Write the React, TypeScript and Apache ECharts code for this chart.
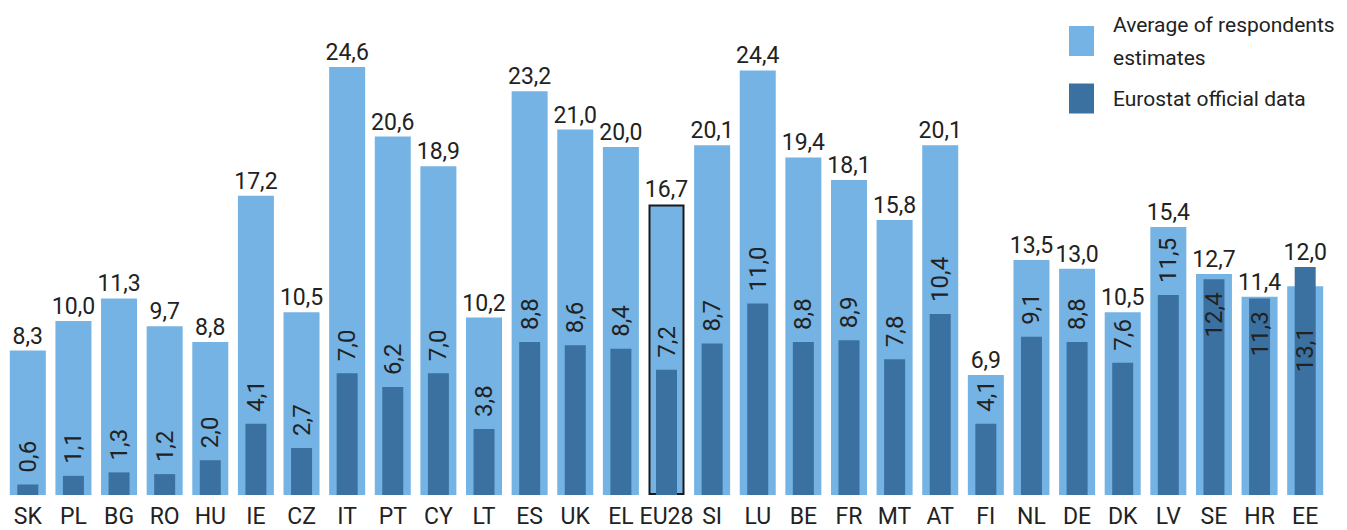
import React, { useEffect, useRef } from "react";
import * as echarts from "echarts";

const categories = ["SK","PL","BG","RO","HU","IE","CZ","IT","PT","CY","LT","ES","UK","EL","EU28","SI","LU","BE","FR","MT","AT","FI","NL","DE","DK","LV","SE","HR","EE"];
const estimates = [8.3,10.0,11.3,9.7,8.8,17.2,10.5,24.6,20.6,18.9,10.2,23.2,21.0,20.0,16.7,20.1,24.4,19.4,18.1,15.8,20.1,6.9,13.5,13.0,10.5,15.4,12.7,11.4,12.0];
const official = [0.6,1.1,1.3,1.2,2.0,4.1,2.7,7.0,6.2,7.0,3.8,8.8,8.6,8.4,7.2,8.7,11.0,8.8,8.9,7.8,10.4,4.1,9.1,8.8,7.6,11.5,12.4,11.3,13.1];
const seriesNames = ["Average of respondents\nestimates", "Eurostat official data"];
const highlighted = "EU28";

const LIGHT = "#74B3E3";
const DARK = "#3B71A0";
const TEXT = "#222222";
const FONT = "Roboto";

const fmt = (v: number) => v.toFixed(1).replace(".", ",");

export default function App() {
  const ref = useRef<HTMLDivElement>(null);
  useEffect(() => {
    if (!ref.current) return;
    const chart = echarts.init(ref.current, null, { renderer: "svg" });
    const lightData = estimates.map((v, i) =>
      categories[i] === highlighted
        ? { value: v, itemStyle: { borderColor: "#1a1a1a", borderWidth: 2 } }
        : { value: v }
    );
    const darkData = official.map((v, i) => {
      const e = estimates[i];
      if (e - v < 1.5) {
        return {
          value: v,
          label: {
            position: "insideTop",
            align: "right",
            distance: v > e ? 60 : 13,
          },
        };
      }
      return { value: v };
    });
    const topData = estimates.map((v, i) => Math.max(v, official[i]));

    chart.setOption({
      animation: false,
      textStyle: { fontFamily: FONT },
      grid: { left: 5, right: 19, top: 7.8, bottom: 35, containLabel: false },
      legend: {
        data: seriesNames.map((n) => ({ name: n, icon: "rect" })),
        orient: "vertical",
        left: 1064,
        top: 3,
        itemWidth: 25,
        itemHeight: 30,
        itemGap: 8,
        selectedMode: false,
        textStyle: {
          fontFamily: FONT,
          fontSize: 21,
          lineHeight: 33,
          color: TEXT,
          padding: [0, 0, 0, 14],
        },
      },
      xAxis: [
        {
          type: "category",
          data: categories,
          axisLine: { show: false },
          axisTick: { show: false },
          axisLabel: {
            fontSize: 23,
            color: TEXT,
            margin: 10,
            interval: 0,
            fontFamily: FONT,
          },
        },
        {
          type: "category",
          data: categories,
          show: false,
        },
      ],
      yAxis: { type: "value", min: 0, max: 28, show: false },
      series: [
        {
          name: seriesNames[0],
          type: "bar",
          xAxisIndex: 0,
          barWidth: 36,
          barGap: "-100%",
          data: lightData,
          itemStyle: { color: LIGHT },
        },
        {
          name: seriesNames[1],
          type: "bar",
          xAxisIndex: 1,
          barWidth: 21,
          data: darkData,
          itemStyle: { color: DARK },
          label: {
            show: true,
            position: "top",
            rotate: 90,
            align: "left",
            verticalAlign: "middle",
            distance: 12,
            fontSize: 24,
            color: TEXT,
            fontFamily: FONT,
            formatter: (p: any) => fmt(official[p.dataIndex]),
          },
        },
        {
          name: "labels",
          type: "bar",
          xAxisIndex: 0,
          barWidth: 36,
          barGap: "-100%",
          silent: true,
          data: topData,
          itemStyle: { color: "rgba(0,0,0,0)" },
          label: {
            show: true,
            position: "top",
            distance: 3,
            fontSize: 23,
            color: TEXT,
            fontFamily: FONT,
            formatter: (p: any) => fmt(estimates[p.dataIndex]),
          },
        },
      ],
    });
    return () => chart.dispose();
  }, []);
  return (
    <div
      ref={ref}
      style={{ position: "fixed", left: 0, top: 0, width: 1347, height: 530, background: "#fff" }}
    />
  );
}
